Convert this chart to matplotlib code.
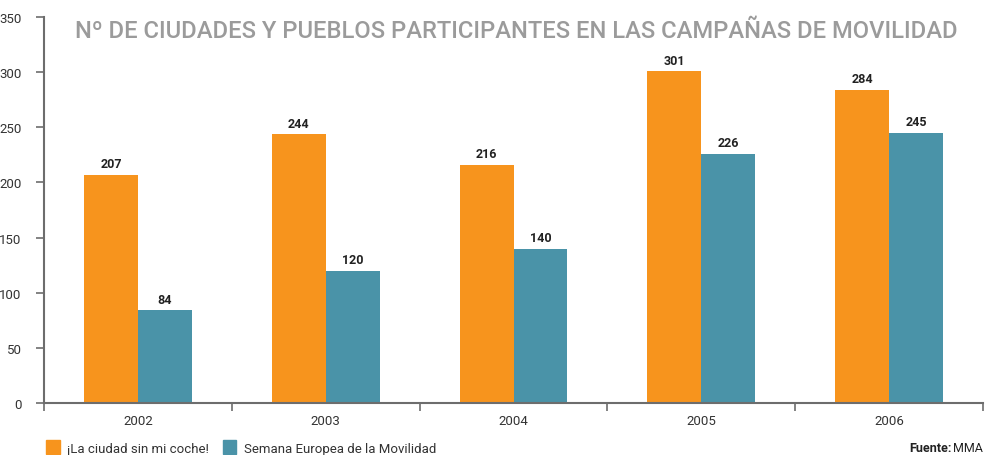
import numpy as np
import matplotlib.pyplot as plt
from matplotlib.patches import Patch

# data
years = ['2002', '2003', '2004', '2005', '2006']
ciudad_sin_coche = [207, 244, 216, 301, 284]
semana_europea = [84, 120, 140, 226, 245]
series_names = ['¡La ciudad sin mi coche!', 'Semana Europea de la Movilidad']

orange = '#F7941D'
teal = '#4A93A8'
grey = '#6d6d6d'

plt.rcParams['font.family'] = ['Roboto', 'DejaVu Sans']

fig = plt.figure(figsize=(9.86, 4.56), dpi=100)
ax = fig.add_axes([0.0446, 0.114, 0.9524, 0.8465])

pos = np.arange(len(years))
width = 0.287
bar1 = ax.bar(pos - width / 2, ciudad_sin_coche, width, color=orange)
bar2 = ax.bar(pos + width / 2, semana_europea, width, color=teal)

# etiquetas de valor
for bars, vals in ((bar1, ciudad_sin_coche), (bar2, semana_europea)):
    for b, v in zip(bars, vals):
        ax.text(b.get_x() + b.get_width() / 2, v + 4, str(v), ha='center', va='bottom',
                fontsize=9, fontweight='bold', color='#222222')

# ejes
ax.set_xlim(-0.5, len(years) - 0.5)
ax.set_ylim(0, 350)
ax.set_yticks(np.arange(0, 351, 50))
ax.set_xticks(pos)
ax.set_xticklabels(years)
ax.set_xticks(np.arange(-0.5, len(years), 1), minor=True)
ax.tick_params(axis='x', which='major', length=0, pad=8, labelsize=9.5, labelcolor='#333333')
ax.tick_params(axis='x', which='minor', length=6, color=grey, width=1.2, direction='out')
ax.tick_params(axis='y', length=6, color=grey, width=1.2, labelsize=9.5, labelcolor='#333333', pad=10)
for s in ['top', 'right']:
    ax.spines[s].set_visible(False)
for s in ['left', 'bottom']:
    ax.spines[s].set_color(grey)
    ax.spines[s].set_linewidth(1.5)

# titulo
fig.text(0.524, 0.932, 'Nº DE CIUDADES Y PUEBLOS PARTICIPANTES EN LAS CAMPAÑAS DE MOVILIDAD',
         ha='center', va='center', fontsize=17.1, fontweight='medium', color='#9b9b9b')

# leyenda
fig.legend([Patch(color=orange), Patch(color=teal)], series_names,
           loc='lower left', bbox_to_anchor=(0.035, -0.025), ncol=2, frameon=False,
           fontsize=9.5, handlelength=1.0, handleheight=1.3, handletextpad=0.6,
           columnspacing=1.0, labelcolor='#333333')

# fuente
t = fig.text(0.997, 0.003, 'MMA', ha='right', va='bottom', fontsize=9, color='#222222')
fig.canvas.draw()
bb = t.get_window_extent()
fig.text((bb.x0 - 2) / fig.bbox.width, 0.003, 'Fuente:', ha='right', va='bottom', fontsize=9,
         fontweight='bold', color='#222222')

plt.savefig('out.png', dpi=100)
